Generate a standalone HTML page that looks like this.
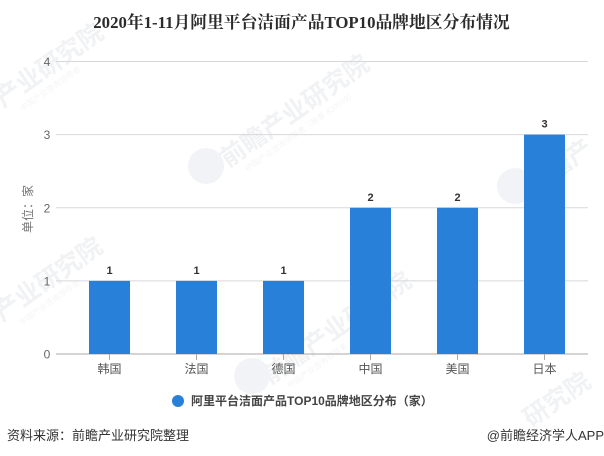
<!DOCTYPE html>
<html><head><meta charset="utf-8"><style>
html,body{margin:0;padding:0;background:#fff;width:604px;height:456px;overflow:hidden}
svg{display:block;overflow:hidden}
text{font-family:"Liberation Sans","Noto Sans CJK SC",sans-serif}
.wm{fill:#f1f2f4;font-size:25px;font-weight:700}
.wm2{fill:#f4f5f6;font-size:8px}
</style></head><body>
<svg id="chart" width="604" height="456" viewBox="0 0 604 456" xmlns="http://www.w3.org/2000/svg">
<g id="watermarks"></g>
<text x="301.5" y="28" text-anchor="middle" font-size="16.8" font-weight="700" fill="#2b2b2b" style='font-family:"Liberation Serif","Noto Serif CJK SC",serif'>2020年1-11月阿里平台洁面产品TOP10品牌地区分布情况</text>
<g id="grid"></g>
<g id="bars"></g>
<text transform="translate(32,209) rotate(-90)" text-anchor="middle" font-size="12" fill="#777">单位：家</text>
<g>
<circle cx="178" cy="401" r="6" fill="#2980d9"/>
<text x="191" y="405" font-size="12" font-weight="700" fill="#444">阿里平台洁面产品TOP10品牌地区分布（家）</text>
</g>
<text x="7" y="440" font-size="13" fill="#333">资料来源：前瞻产业研究院整理</text>
<text x="604" y="440" text-anchor="end" font-size="13" fill="#333">@前瞻经济学人APP</text>
</svg>
<script>
const categories = ['韩国','法国','德国','中国','美国','日本'];
const seriesValues = [1,1,1,2,2,3];
const yTickLabels = [0,1,2,3,4];
const NS = 'http://www.w3.org/2000/svg';
const plotLeft = 66, plotRight = 588, plotTop = 61.5, plotBottom = 354;
const yMax = yTickLabels[yTickLabels.length - 1];
const y = v => plotBottom - (v / yMax) * (plotBottom - plotTop);
const band = (plotRight - plotLeft) / categories.length;
const x = i => plotLeft + band * (i + 0.5);
const barWidth = 41;
function mk(tag, attrs, parent, txt) {
  const e = document.createElementNS(NS, tag);
  for (const k in attrs) e.setAttribute(k, attrs[k]);
  if (txt !== undefined) e.textContent = txt;
  parent.appendChild(e);
  return e;
}
const wmG = document.getElementById('watermarks');
[
  [3,108,'产业研究院','中国产业咨询领导者'],
  [228,168,'前瞻产业研究院','中国产业咨询领导者（股票 839599）'],
  [533,195,'前瞻产',''],
  [2,322,'产业研究院','中国产业咨询领导者'],
  [270,385,'前瞻产业研究院','中国产业咨询领导者（股票 839599）'],
  [531,428,'研究院','']
].forEach(function(p){
  const g = mk('g', {transform:'translate(' + p[0] + ',' + p[1] + ') rotate(-35)'}, wmG);
  
  
  mk('text', {x:0, y:0, class:'wm'}, g, p[2]);
  if (p[3]) mk('text', {x:14, y:14, class:'wm2'}, g, p[3]);
});
[[206,166],[515,186],[252,376]].forEach(function(p){
  const logo = mk('circle', {cx:p[0], cy:p[1], r:18, fill:'#f2f3f6'}, wmG);
  
  
});
const gridG = document.getElementById('grid');
yTickLabels.forEach(function(t){
  const line = mk('line', {x1:56, x2:plotRight, y1:y(t), y2:y(t), stroke: t === 0 ? '#aaa' : '#d8d8dc', 'stroke-width':1}, gridG);
  
  
  const label = mk('text', {x:47, y:y(t) + 4.5, 'text-anchor':'middle', 'font-size':12, fill:'#666'}, gridG, t);
  
  
});
const barsG = document.getElementById('bars');
categories.forEach(function(c, i){
  const v = seriesValues[i];
  const bar = mk('rect', {x:x(i) - barWidth / 2, y:y(v), width:barWidth, height:plotBottom - y(v), fill:'#2980d9'}, barsG);
  
  
  const val = mk('text', {x:x(i), y:y(v) - 7, 'text-anchor':'middle', 'font-size':11, 'font-weight':700, fill:'#333'}, barsG, v);
  
  
  const tick = mk('line', {x1:x(i), x2:x(i), y1:plotBottom, y2:plotBottom + 6, stroke:'#aaa'}, barsG);
  
  
  const lab = mk('text', {x:x(i), y:373, 'text-anchor':'middle', 'font-size':12, fill:'#555'}, barsG, c);
  
  
});
</script>
</body></html>
